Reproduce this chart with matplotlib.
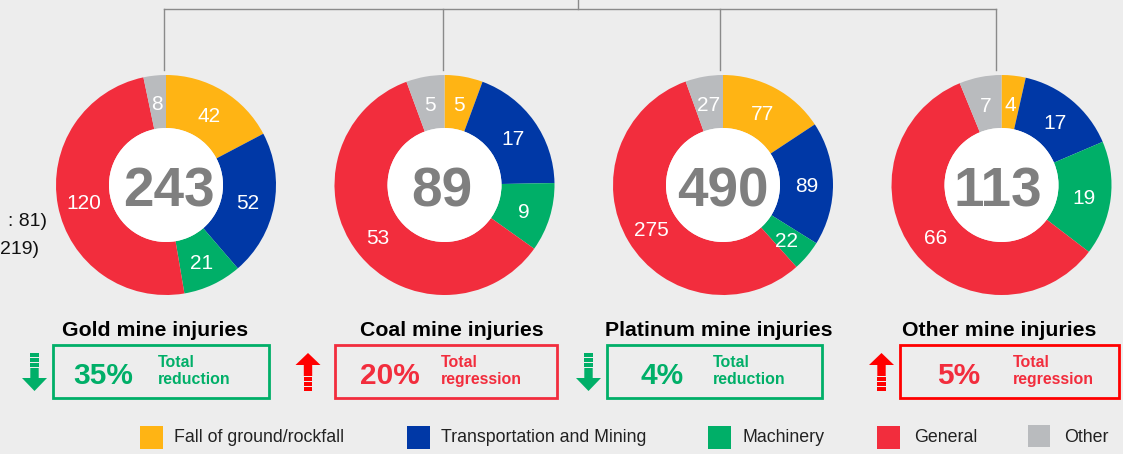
import math
import matplotlib
matplotlib.use("Agg")
import matplotlib.pyplot as plt
from matplotlib.patches import Rectangle, Polygon

plt.rcParams['font.family'] = ['Liberation Sans', 'DejaVu Sans']

categories = ["Fall of ground/rockfall", "Transportation and Mining", "Machinery", "General", "Other"]
colors = ["#FFB414", "#0038A6", "#00AF68", "#F22D3D", "#B9BBBE"]
gold = [42, 52, 21, 120, 8]
coal = [5, 17, 9, 53, 5]
platinum = [77, 89, 22, 275, 27]
other = [4, 17, 19, 66, 7]
series = [gold, coal, platinum, other]
totals = [243, 89, 490, 113]
titles = ["Gold mine injuries", "Coal mine injuries", "Platinum mine injuries", "Other mine injuries"]
changes = ["35%", "20%", "4%", "5%"]
change_labels = ["Total\nreduction", "Total\nregression", "Total\nreduction", "Total\nregression"]

W, H = 1123, 454
BG = "#EDEDED"
GREEN, RED, PURE = "#00AF68", "#F22D3D", "#FF0000"
fig = plt.figure(figsize=(W / 100, H / 100), dpi=100, facecolor=BG)
ov = fig.add_axes([0, 0, 1, 1], zorder=3)
ov.set_xlim(0, W); ov.set_ylim(H, 0); ov.axis("off"); ov.patch.set_alpha(0)

centers = [166, 444.5, 723, 1001.5]
total_dx = [2.5, -3, 0, -4]
cy, R, r = 185, 110, 57
tree_x = [164, 443, 720, 996]
title_x = [155, 451.5, 719, 999]
boxes = [(53, 345, 216, 53), (335, 345, 222, 53), (607, 345, 215, 53), (900, 345, 219, 53)]
box_cols = [GREEN, RED, GREEN, PURE]
pct_x = [103, 390, 662, 959]
lab_x = [158, 441, 713, 1013]
arrow_x = [34.5, 308, 588.5, 881.5]
gray = "#8A8A8A"

# connector lines
ov.plot([tree_x[0], tree_x[-1]], [9, 9], color=gray, lw=1)
ov.plot([578, 578], [0, 9], color=gray, lw=1)
for x in tree_x:
    ov.plot([x, x], [9, 70], color=gray, lw=1)

# fragments of a side note at the left edge of the picture
ov.text(47, 221, ": 81)", ha="right", va="center", fontsize=14, color="#111111")
ov.text(39, 249, "219)", ha="right", va="center", fontsize=14, color="#111111")

for i, vals in enumerate(series):
    cx = centers[i]
    ax = fig.add_axes([(cx - R - 1) / W, 1 - (cy + R + 1) / H, (2 * R + 2) / W, (2 * R + 2) / H], zorder=1)
    ax.pie(vals, colors=colors, startangle=90, counterclock=False, radius=R / (R + 1),
           wedgeprops=dict(width=(R - r) / (R + 1), linewidth=0))
    ax.set_xlim(-1, 1); ax.set_ylim(-1, 1)
    ax.add_patch(plt.Circle((0, 0), r / (R + 1), color="white", lw=0, zorder=2))
    total = sum(vals)
    cum = 0
    for v in vals:
        ang = math.radians(90 - (cum + v / 2) / total * 360)
        cum += v
        d = (R + r) / 2 / (R + 1)
        ax.text(d * math.cos(ang), d * math.sin(ang) - 3 / (R + 1), str(v), ha="center", va="center",
                color="white", fontsize=15, zorder=3)
    ax.text(total_dx[i] / (R + 1), -0.065, str(totals[i]), ha="center", va="center", color="#7F7F7F",
            fontsize=39.5, fontweight="bold", zorder=3)

    ov.text(title_x[i], 330, titles[i], ha="center", va="center", fontsize=15.3, fontweight="bold", color="black")
    x0, y0, w, h = boxes[i]
    ov.add_patch(Rectangle((x0, y0), w, h, fill=False, ec=box_cols[i], lw=2))
    txtcol = GREEN if i in (0, 2) else RED
    ov.text(pct_x[i], 375.5, changes[i], ha="center", va="center", fontsize=21.5, fontweight="bold", color=txtcol)
    ov.text(lab_x[i], 371, change_labels[i], ha="left", va="center", fontsize=11.4, fontweight="bold",
            color=txtcol, linespacing=1.12)

    a = arrow_x[i]
    if i in (0, 2):
        ov.add_patch(Polygon([(a - 4.2, 368), (a + 4.2, 368), (a + 4.2, 378), (a + 12.5, 378), (a, 391),
                              (a - 12.5, 378), (a - 4.2, 378)], color=GREEN, lw=0))
        for y in (353, 358, 363):
            ov.add_patch(Rectangle((a - 4.2, y), 8.4, 4, color=GREEN, lw=0))
    else:
        ov.add_patch(Polygon([(a, 353), (a + 12.5, 365), (a + 4.2, 365), (a + 4.2, 376), (a - 4.2, 376),
                              (a - 4.2, 365), (a - 12.5, 365)], color=PURE, lw=0))
        for y in (377, 382, 387):
            ov.add_patch(Rectangle((a - 4.2, y), 8.4, 4, color=PURE, lw=0))

# legend
leg_sq = [(140, 426, 23), (407, 426, 23), (708, 426, 23), (877, 426, 23), (1028, 425, 22)]
leg_tx = [174, 441, 743, 914, 1064]
for (x, y, s), tx, c, name in zip(leg_sq, leg_tx, colors, categories):
    ov.add_patch(Rectangle((x, y), s, s, color=c, lw=0))
    ov.text(tx, 436, name, ha="left", va="center_baseline", fontsize=12.8, color="#222222")

fig.savefig("out.png", dpi=100, facecolor=BG)
